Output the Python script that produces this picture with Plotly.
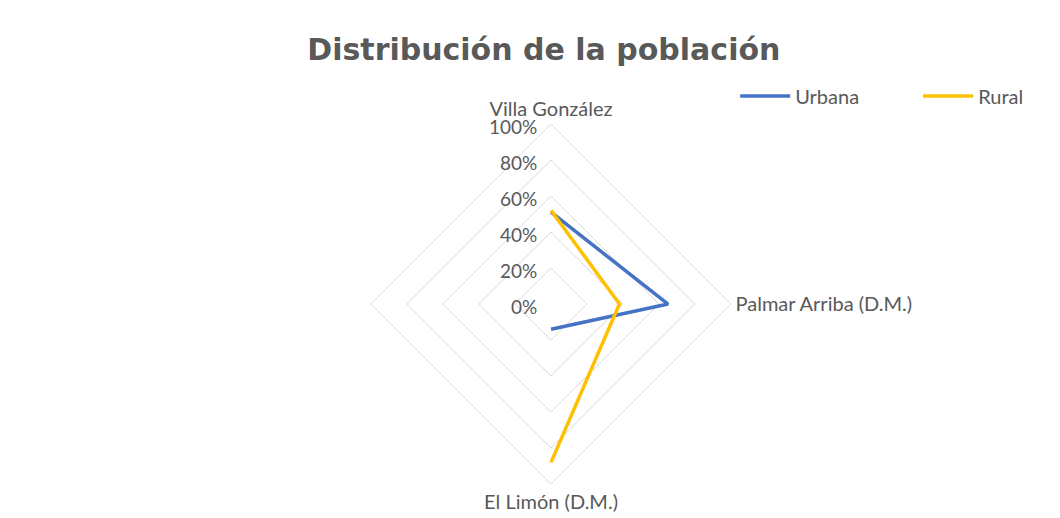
import plotly.graph_objects as go

categories = ["Villa González", "Palmar Arriba (D.M.)", "El Limón (D.M.)", " "]
urbana = [0.51, 0.65, 0.14]
rural = [0.52, 0.38, 0.88]

grey = "#595959"
grid = "#d9d9d9"

fig = go.Figure()

fig.add_trace(go.Scatterpolar(
    r=urbana,
    theta=categories[:3],
    mode="lines",
    name="Urbana",
    line=dict(color="#4472C4", width=3.5),
))
fig.add_trace(go.Scatterpolar(
    r=rural,
    theta=categories[:3],
    mode="lines",
    name="Rural",
    line=dict(color="#FFC000", width=3.5),
))

fig.update_layout(
    width=1060,
    height=518,
    paper_bgcolor="white",
    plot_bgcolor="white",
    margin=dict(l=0, r=0, t=0, b=0, autoexpand=False),
    font=dict(family="Lato, Open Sans, DejaVu Sans", color=grey, size=19),
    title=dict(
        text="<b>Distribución de la población</b>",
        x=0.5055, xanchor="center",
        y=0.92, yanchor="middle",
        font=dict(size=30, color=grey, family="DejaVu Sans"),
    ),
    showlegend=True,
    legend=dict(
        orientation="h",
        x=0.686, xanchor="left",
        y=0.83, yanchor="middle",
        font=dict(size=20, color=grey),
        itemwidth=50,
        entrywidth=118,
        bgcolor="rgba(0,0,0,0)",
    ),
    polar=dict(
        domain=dict(x=[0.3425, 0.6821], y=[0.081, 0.776]),
        bgcolor="white",
        gridshape="linear",
        radialaxis=dict(
            range=[0, 1],
            dtick=0.2,
            tickformat=".0%",
            angle=90,
            side="counterclockwise",
            showline=False,
            ticks="",
            gridcolor=grid,
            gridwidth=1,
            tickfont=dict(size=19, color=grey),
        ),
        angularaxis=dict(
            type="category",
            categoryarray=categories,
            direction="clockwise",
            rotation=90,
            showgrid=False,
            linecolor=grid,
            linewidth=1,
            ticks="",
            tickfont=dict(size=20, color=grey),
        ),
    ),
)

fig.write_html("out.html")
